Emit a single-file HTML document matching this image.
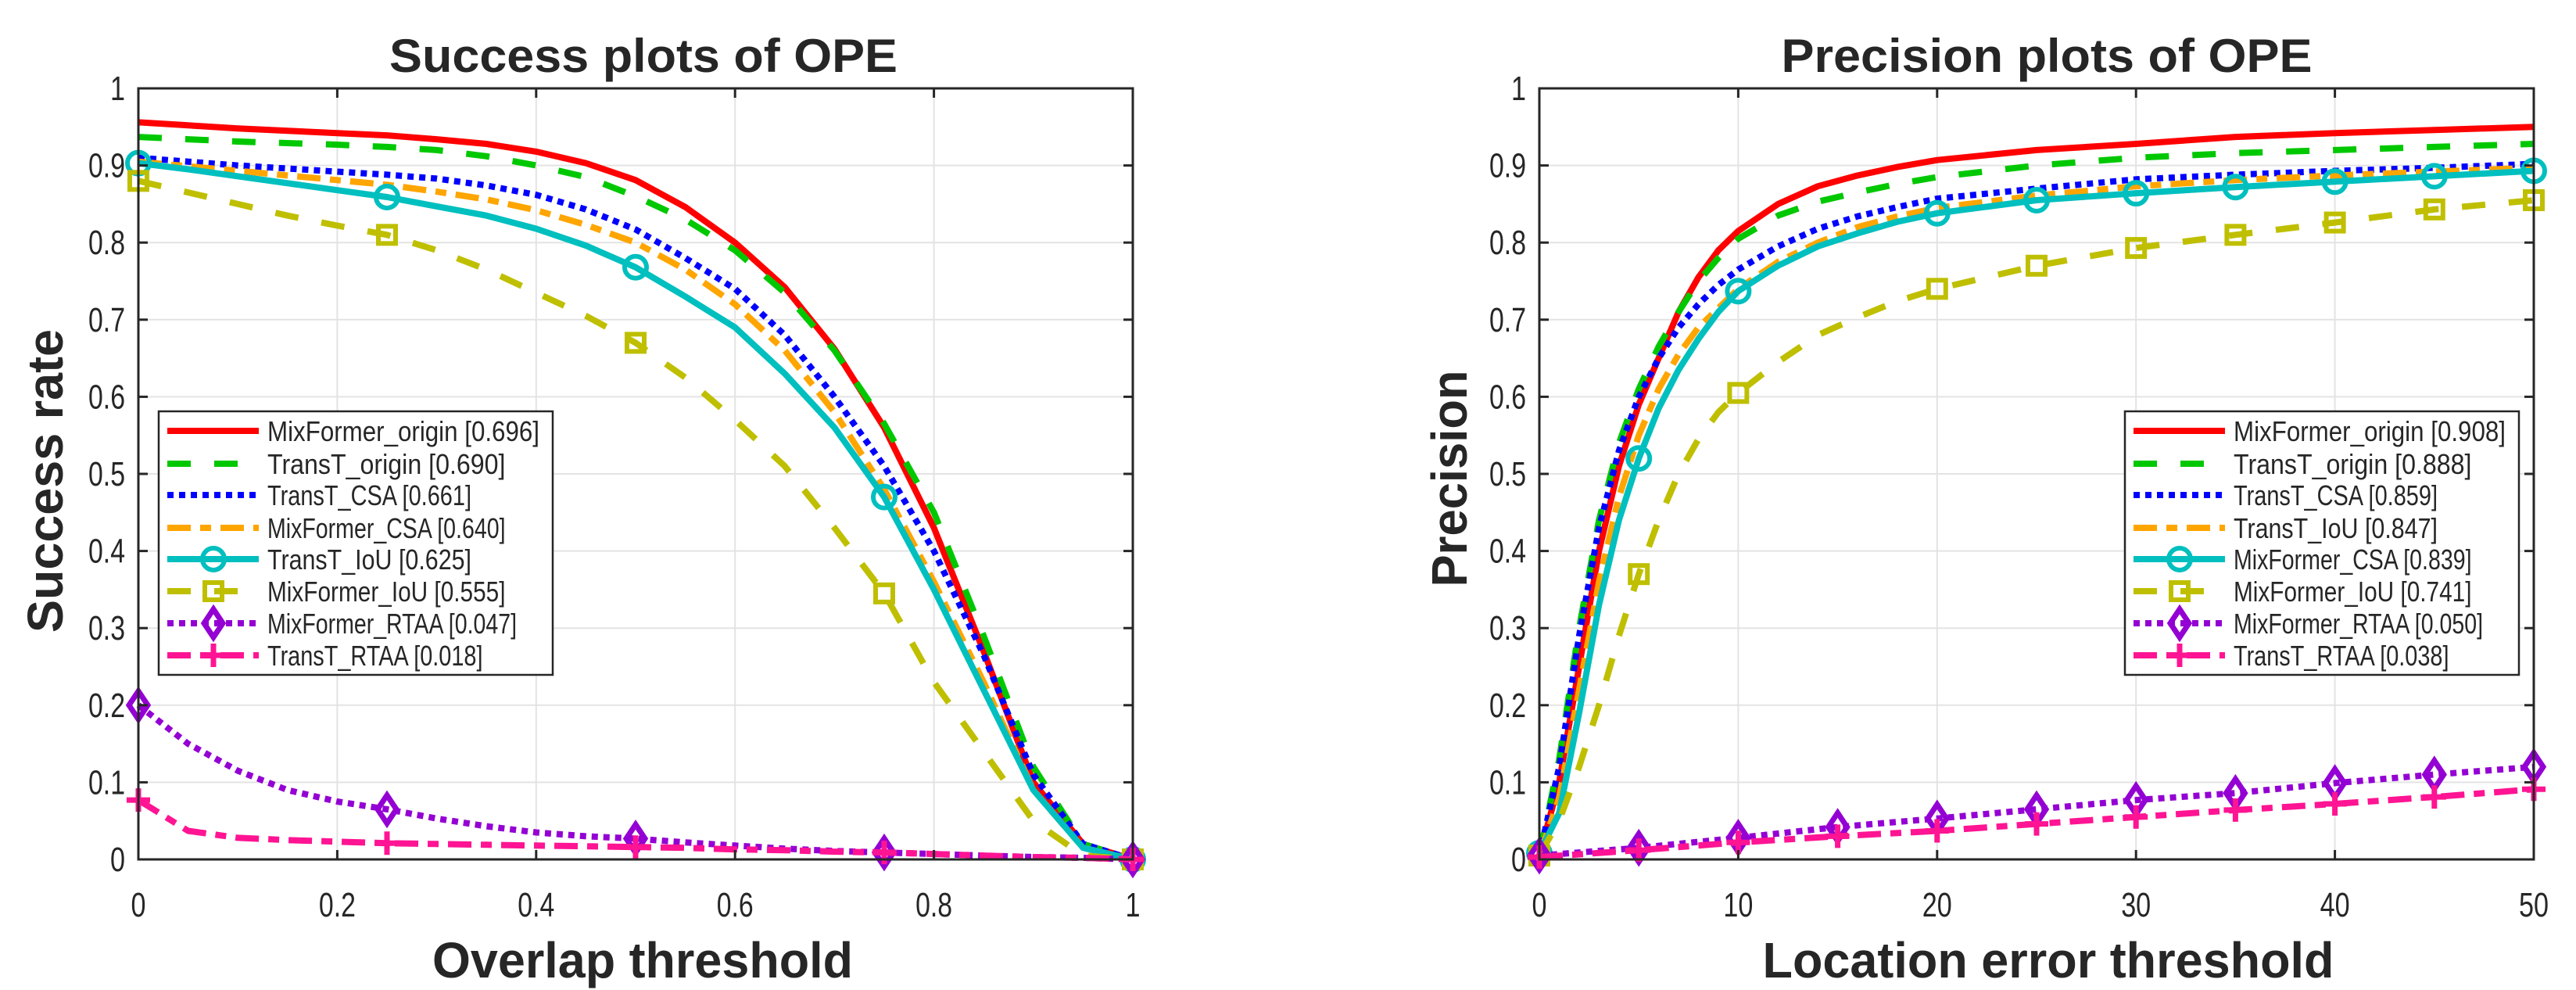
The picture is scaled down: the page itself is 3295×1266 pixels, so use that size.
<!DOCTYPE html>
<html><head><meta charset="utf-8"><style>
html,body{margin:0;padding:0;background:#fff;}
svg{display:block;}
text{font-family:"Liberation Sans",sans-serif;fill:#262626;}
</style></head><body>
<svg id="fig" width="3295" height="1266" viewBox="0 0 3295 1266" xmlns="http://www.w3.org/2000/svg">
<rect width="3295" height="1266" fill="#fff"/>
<g id="left"></g>
<g id="right"></g>
</svg>
<script>
// ---------- Success plot data ----------
const succX = [0,0.05,0.1,0.15,0.2,0.25,0.3,0.35,0.4,0.45,0.5,0.55,0.6,0.65,0.7,0.75,0.8,0.85,0.9,0.95,1];
const succMixOrigin = [0.956,0.952,0.948,0.945,0.942,0.939,0.934,0.928,0.918,0.903,0.881,0.846,0.800,0.742,0.662,0.56,0.43,0.27,0.10,0.02,0];
const succTransOrigin = [0.937,0.934,0.931,0.929,0.927,0.924,0.92,0.912,0.9,0.885,0.86,0.83,0.79,0.735,0.66,0.565,0.45,0.29,0.12,0.02,0];
const succTransCSA = [0.91,0.905,0.9,0.896,0.892,0.888,0.883,0.874,0.862,0.843,0.817,0.78,0.74,0.68,0.6,0.51,0.4,0.265,0.11,0.02,0];
const succMixCSA = [0.905,0.899,0.893,0.887,0.881,0.875,0.866,0.856,0.842,0.823,0.8,0.765,0.72,0.66,0.58,0.48,0.36,0.23,0.09,0.015,0];
const succTransIoU = [0.903,0.895,0.886,0.877,0.868,0.859,0.847,0.835,0.818,0.796,0.768,0.73,0.69,0.63,0.56,0.47,0.35,0.22,0.09,0.015,0];
const succMixIoU = [0.88,0.865,0.85,0.835,0.822,0.81,0.79,0.765,0.735,0.705,0.67,0.625,0.57,0.51,0.43,0.345,0.23,0.14,0.05,0.005,0];
const succMixRTAA = [0.2,0.15,0.115,0.09,0.075,0.065,0.053,0.043,0.035,0.03,0.027,0.022,0.018,0.014,0.011,0.009,0.007,0.005,0.003,0.002,0];
const succTransRTAA = [0.077,0.037,0.028,0.025,0.023,0.021,0.02,0.019,0.018,0.017,0.016,0.015,0.013,0.012,0.01,0.009,0.007,0.005,0.003,0.002,0];
const succXTicks = [0,0.2,0.4,0.6,0.8,1];
const succXTickLabels = ["0","0.2","0.4","0.6","0.8","1"];
const succLegend = ["MixFormer_origin [0.696]","TransT_origin [0.690]","TransT_CSA [0.661]","MixFormer_CSA [0.640]","TransT_IoU [0.625]","MixFormer_IoU [0.555]","MixFormer_RTAA [0.047]","TransT_RTAA [0.018]"];

// ---------- Precision plot data ----------
const precX = [0,1,2,3,4,5,6,7,8,9,10,12,14,16,18,20,25,30,35,40,45,50];
const precMixOrigin = [0.005,0.1,0.25,0.4,0.51,0.59,0.65,0.71,0.755,0.79,0.815,0.85,0.873,0.887,0.898,0.907,0.92,0.928,0.937,0.942,0.946,0.95];
const precTransOrigin = [0.005,0.13,0.3,0.44,0.54,0.61,0.665,0.71,0.75,0.78,0.805,0.835,0.853,0.865,0.876,0.885,0.9,0.91,0.916,0.92,0.924,0.928];
const precTransCSA = [0.005,0.12,0.29,0.43,0.53,0.6,0.65,0.69,0.72,0.745,0.765,0.795,0.818,0.834,0.846,0.857,0.87,0.882,0.888,0.893,0.897,0.902];
const precTransIoU = [0.005,0.08,0.22,0.36,0.47,0.55,0.61,0.655,0.69,0.715,0.74,0.775,0.8,0.82,0.834,0.845,0.861,0.873,0.881,0.887,0.892,0.897];
const precMixCSA = [0.008,0.06,0.19,0.33,0.44,0.52,0.585,0.635,0.675,0.71,0.737,0.77,0.795,0.812,0.827,0.838,0.855,0.864,0.872,0.879,0.886,0.893];
const precMixIoU = [0.005,0.05,0.12,0.2,0.29,0.37,0.44,0.5,0.545,0.58,0.605,0.645,0.68,0.703,0.724,0.74,0.77,0.793,0.81,0.826,0.843,0.855];
const precRtaaX = [0,5,10,15,20,25,30,35,40,45,50];
const precMixRTAA = [0.005,0.015,0.028,0.042,0.053,0.065,0.077,0.086,0.099,0.11,0.12];
const precTransRTAA = [0.003,0.012,0.022,0.03,0.037,0.046,0.055,0.064,0.072,0.081,0.091];
const precXTicks = [0,10,20,30,40,50];
const precXTickLabels = ["0","10","20","30","40","50"];
const precLegend = ["MixFormer_origin [0.908]","TransT_origin [0.888]","TransT_CSA [0.859]","TransT_IoU [0.847]","MixFormer_CSA [0.839]","MixFormer_IoU [0.741]","MixFormer_RTAA [0.050]","TransT_RTAA [0.038]"];

const yTicks = [0,0.1,0.2,0.3,0.4,0.5,0.6,0.7,0.8,0.9,1];
const yTickLabels = ["0","0.1","0.2","0.3","0.4","0.5","0.6","0.7","0.8","0.9","1"];

const NS = "http://www.w3.org/2000/svg";
function mk(tag, attrs, parent){
  const e = document.createElementNS(NS, tag);
  for (const k in attrs) e.setAttribute(k, attrs[k]);
  parent.appendChild(e);
  return e;
}
function tickW(s){ let w=0; for (const c of s) w += (c==='.')?9:19; return w; }

const STY = {
  red:{stroke:"#ff0000",dash:"",marker:null},
  green:{stroke:"#00c800",dash:"30 30",marker:null},
  blue:{stroke:"#0000ff",dash:"8 7",marker:null},
  orange:{stroke:"#ffa500",dash:"30 12 14 12",marker:null},
  cyan:{stroke:"#00bfbf",dash:"",marker:"circle"},
  yellow:{stroke:"#bfbf00",dash:"30 30",marker:"square"},
  purple:{stroke:"#9400d3",dash:"8 7",marker:"diamond"},
  pink:{stroke:"#ff1493",dash:"30 12 14 12",marker:"plus"}
};

function drawMarker(g, kind, cx, cy, color, name){
  let m;
  if (kind==="circle") m = mk("circle",{cx:cx,cy:cy,r:14,fill:"none",stroke:color,"stroke-width":6},g);
  else if (kind==="square") m = mk("rect",{x:cx-11,y:cy-11,width:22,height:22,fill:"none",stroke:color,"stroke-width":6},g);
  else if (kind==="diamond") m = mk("polygon",{points:`${cx},${cy-18} ${cx+12},${cy} ${cx},${cy+18} ${cx-12},${cy}`,fill:"none",stroke:color,"stroke-width":7},g);
  else m = mk("path",{d:`M${cx-15},${cy}H${cx+15}M${cx},${cy-15}V${cy+15}`,stroke:color,"stroke-width":7,fill:"none"},g);
  
  
}

function buildPlot(g, cfg){
  const L = cfg.left, R = cfg.right, T = 113, B = 1099;
  const xs = v => L + (v - cfg.xmin)/(cfg.xmax - cfg.xmin)*(R-L);
  const ys = v => B - v*(B-T);
  const grid = mk("g",{},g);
  
  
  cfg.xTicks.forEach(t=>{ mk("line",{x1:xs(t),x2:xs(t),y1:T,y2:B,stroke:"#e3e3e3","stroke-width":2},grid); });
  yTicks.forEach(t=>{ mk("line",{x1:L,x2:R,y1:ys(t),y2:ys(t),stroke:"#e3e3e3","stroke-width":2},grid); });
  cfg.series.forEach(s=>{
    const st = STY[s.style];
    const sg = mk("g",{},g);
    
    
    const pts = s.x.map((xv,i)=>xs(xv).toFixed(1)+","+ys(s.y[i]).toFixed(1)).join(" ");
    const pl = mk("polyline",{points:pts,fill:"none",stroke:st.stroke,"stroke-width":8,"stroke-dasharray":st.dash,"stroke-linejoin":"round"},sg);
    
    
    if (st.marker){
      s.x.forEach((xv,i)=>{
        if (s.mark(xv)) drawMarker(sg, st.marker, xs(xv), ys(s.y[i]), st.stroke, s.name+'-marker');
      });
    }
  });
  const ax = mk("rect",{x:L,y:T,width:R-L,height:B-T,fill:"none",stroke:"#262626","stroke-width":3},g);
  
  
  cfg.xTicks.forEach((t,i)=>{
    mk("line",{x1:xs(t),x2:xs(t),y1:B,y2:B-12,stroke:"#262626","stroke-width":3},g);
    mk("line",{x1:xs(t),x2:xs(t),y1:T,y2:T+12,stroke:"#262626","stroke-width":3},g);
    const lab = cfg.xTickLabels[i];
    const tx = mk("text",{x:xs(t),y:1172,"text-anchor":"middle","font-size":44,textLength:tickW(lab),lengthAdjust:"spacingAndGlyphs"},g);
    tx.textContent = lab;
    
    
  });
  yTicks.forEach((t,i)=>{
    mk("line",{x1:L,x2:L+12,y1:ys(t),y2:ys(t),stroke:"#262626","stroke-width":3},g);
    mk("line",{x1:R,x2:R-12,y1:ys(t),y2:ys(t),stroke:"#262626","stroke-width":3},g);
    const lab = yTickLabels[i];
    const ty = mk("text",{x:L-17,y:ys(t)+15,"text-anchor":"end","font-size":44,textLength:tickW(lab),lengthAdjust:"spacingAndGlyphs"},g);
    ty.textContent = lab;
    
    
  });
  const ti = mk("text",{x:cfg.titleX,y:92,"text-anchor":"middle","font-size":60,"font-weight":"bold",fill:"#000",textLength:cfg.titleW,lengthAdjust:"spacingAndGlyphs"},g);
  ti.textContent = cfg.title;
  
  
  const xl = mk("text",{x:cfg.xlabX,y:1250,"text-anchor":"middle","font-size":64,"font-weight":"bold",textLength:cfg.xlabW,lengthAdjust:"spacingAndGlyphs"},g);
  xl.textContent = cfg.xlab;
  
  
  const yl = mk("text",{x:0,y:0,"text-anchor":"middle","font-size":64,"font-weight":"bold",textLength:cfg.ylabW,lengthAdjust:"spacingAndGlyphs",transform:`translate(${cfg.ylabX},${cfg.ylabY}) rotate(-90)`},g);
  yl.textContent = cfg.ylab;
  
  
  const lg = mk("g",{},g);
  
  
  const lx = cfg.legX;
  mk("rect",{x:lx,y:526,width:504,height:337,fill:"#fff",stroke:"#262626","stroke-width":2.5},lg);
  const rows = [551,593,633,675,715,756,797,838];
  cfg.series.forEach((s,i)=>{
    const st = STY[s.style];
    const en = mk("g",{},lg);
    
    
    const y = rows[i];
    mk("line",{x1:lx+11,x2:lx+128,y1:y,y2:y,stroke:st.stroke,"stroke-width":8,"stroke-dasharray":st.dash},en);
    if (st.marker) drawMarker(en, st.marker, lx+70, y, st.stroke, 'legend-marker');
    const label = cfg.legend[i];
    const tt = mk("text",{x:lx+139,y:y+13,"font-size":36,fill:"#000",textLength:label.length*14.5,lengthAdjust:"spacingAndGlyphs"},en);
    tt.textContent = label;
  });
}

const onEvery = step => (x => Math.abs(x/step - Math.round(x/step)) < 1e-6);

buildPlot(document.getElementById("left"), {
  left:177, right:1449, xmin:0, xmax:1,
  xTicks:succXTicks, xTickLabels:succXTickLabels,
  title:"Success plots of OPE", titleX:823, titleW:650,
  xlab:"Overlap threshold", xlabX:822, xlabW:538,
  ylab:"Success rate", ylabX:80, ylabY:615, ylabW:388,
  legX:203, legend:succLegend,
  series:[
    {name:"mixformer-origin",style:"red",x:succX,y:succMixOrigin},
    {name:"transt-origin",style:"green",x:succX,y:succTransOrigin},
    {name:"transt-csa",style:"blue",x:succX,y:succTransCSA},
    {name:"mixformer-csa",style:"orange",x:succX,y:succMixCSA},
    {name:"transt-iou",style:"cyan",x:succX,y:succTransIoU,mark:onEvery(0.25)},
    {name:"mixformer-iou",style:"yellow",x:succX,y:succMixIoU,mark:onEvery(0.25)},
    {name:"mixformer-rtaa",style:"purple",x:succX,y:succMixRTAA,mark:onEvery(0.25)},
    {name:"transt-rtaa",style:"pink",x:succX,y:succTransRTAA,mark:onEvery(0.25)}
  ]
});

buildPlot(document.getElementById("right"), {
  left:1969, right:3241, xmin:0, xmax:50,
  xTicks:precXTicks, xTickLabels:precXTickLabels,
  title:"Precision plots of OPE", titleX:2618, titleW:679,
  xlab:"Location error threshold", xlabX:2620, xlabW:731,
  ylab:"Precision", ylabX:1876, ylabY:612, ylabW:277,
  legX:2718, legend:precLegend,
  series:[
    {name:"mixformer-origin",style:"red",x:precX,y:precMixOrigin},
    {name:"transt-origin",style:"green",x:precX,y:precTransOrigin},
    {name:"transt-csa",style:"blue",x:precX,y:precTransCSA},
    {name:"transt-iou",style:"orange",x:precX,y:precTransIoU},
    {name:"mixformer-csa",style:"cyan",x:precX,y:precMixCSA,mark:onEvery(5)},
    {name:"mixformer-iou",style:"yellow",x:precX,y:precMixIoU,mark:onEvery(5)},
    {name:"mixformer-rtaa",style:"purple",x:precRtaaX,y:precMixRTAA,mark:onEvery(5)},
    {name:"transt-rtaa",style:"pink",x:precRtaaX,y:precTransRTAA,mark:onEvery(5)}
  ]
});
</script>
</body></html>
